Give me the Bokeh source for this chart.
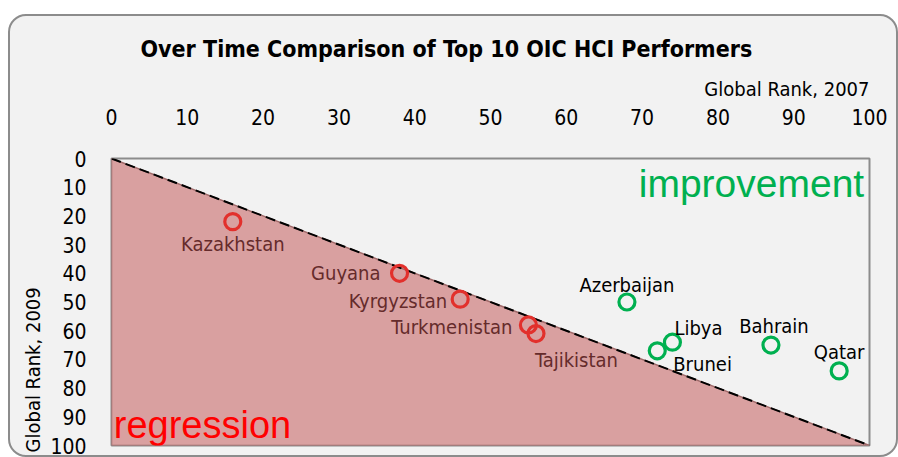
from bokeh.plotting import figure
from bokeh.models import Range1d, Label, ColumnDataSource, FixedTicker, Title
from bokeh.core.properties import value
from bokeh.embed import file_html
from bokeh.resources import INLINE

# ---- data ----
countries = ["Kazakhstan", "Guyana", "Kyrgyzstan", "Turkmenistan", "Tajikistan",
             "Azerbaijan", "Libya", "Brunei", "Bahrain", "Qatar"]
rank_2007 = [16, 38, 46, 55, 56, 68, 74, 72, 87, 96]
rank_2009 = [22, 40, 49, 58, 61, 50, 64, 67, 65, 74]
improved = [False, False, False, False, False, True, True, True, True, True]
diag_x = [0, 100]
diag_y = [0, 100]
x_ticks = [0, 10, 20, 30, 40, 50, 60, 70, 80, 90, 100]
y_ticks = [0, 10, 20, 30, 40, 50, 60, 70, 80, 90, 100]
title_text = "Over Time Comparison of Top 10 OIC HCI Performers"
x_title = "Global Rank, 2007"
y_title = "Global Rank, 2009"

# ---- label layout (pixel offsets / alignment per label) ----
lab_dx = [0, -19, -13, -16, -1, 0, 2, 16, 3, 0]
lab_dy = [22, 0, 2, 2, 26, -17, -14, 13, -19, -19]
lab_align = ["center", "right", "right", "right", "left", "center", "left", "left", "center", "center"]

NARROW = "DejaVu Sans Condensed"
RED = "#e2302c"
GREEN = "#00b050"

p = figure(width=890, height=443, output_backend="svg", toolbar_location=None,
           x_range=Range1d(0, 100), y_range=Range1d(100, 0),
           x_axis_location="above", min_border_left=101, min_border_right=31,
           min_border_top=142, min_border_bottom=14)
p.styles = {"margin-left": "8px", "margin-top": "14px",
            "border": "2px solid #8c8c8c", "border-radius": "18px",
            "background-color": "#f2f2f2", "box-sizing": "border-box"}
p.border_fill_color = None
p.background_fill_color = "#f2f2f2"
p.outline_line_color = "#8c8c8c"
p.outline_line_width = 2
p.xgrid.visible = False
p.ygrid.visible = False

for ax in (p.xaxis[0], p.yaxis[0]):
    ax.axis_line_color = None
    ax.major_tick_line_color = None
    ax.minor_tick_line_color = None
    ax.major_label_text_font = NARROW
    ax.major_label_text_font_size = "21px"
    ax.major_label_text_color = "#000000"
p.xaxis[0].ticker = FixedTicker(ticks=x_ticks)
p.yaxis[0].ticker = FixedTicker(ticks=y_ticks)
p.xaxis[0].major_label_standoff = 28
p.yaxis[0].major_label_standoff = 19

# titles (outside the frame)
p.title.text = title_text
p.title.text_font = NARROW
p.title.text_font_size = "23px"
p.title.text_font_style = "bold"
p.title.text_color = "#000000"
p.title.align = "left"
p.title.offset = 29
p.title.standoff = 18

p.add_layout(Title(text=x_title, align="right", offset=0, standoff=9,
                   text_font=NARROW, text_font_size="20px", text_font_style="normal",
                   text_color="#000000"), "above")
p.add_layout(Title(text=y_title, align="left", offset=-7, standoff=6,
                   text_font=NARROW, text_font_size="20px", text_font_style="normal",
                   text_color="#000000"), "left")

# regression area below the diagonal
p.patch(x=[diag_x[0], diag_x[1], diag_x[0]], y=[diag_y[0], diag_y[1], diag_y[1]],
        fill_color="#d9a0a0", line_color="#a06a6a", line_width=1.5)
p.line(x=diag_x, y=diag_y, line_color="black", line_width=2, line_dash="10 5")

src = ColumnDataSource(dict(
    x=rank_2007, y=rank_2009, name=countries,
    color=[GREEN if g else RED for g in improved],
    tcolor=["#000000" if g else "#652b2b" for g in improved],
    dx=lab_dx, dy=lab_dy, align=lab_align))

p.scatter("x", "y", source=src, marker="circle", size=16, fill_color=None,
          line_color="color", line_width=3.2)
p.text("x", "y", text="name", source=src, x_offset="dx", y_offset="dy",
       text_align="align", text_baseline="middle", text_color="tcolor",
       text_font=value(NARROW), text_font_size="20px")

# area annotations
p.add_layout(Label(x=99.3, y=8.7, text="improvement", text_align="right",
                   text_baseline="middle", text_color=GREEN,
                   text_font="Liberation Sans", text_font_size="39px"))
p.add_layout(Label(x=0.3, y=93.0, text="regression", text_align="left",
                   text_baseline="middle", text_color="#ff0000",
                   text_font="Liberation Sans", text_font_size="38px"))

open("out.html", "w").write(file_html(p, INLINE))
